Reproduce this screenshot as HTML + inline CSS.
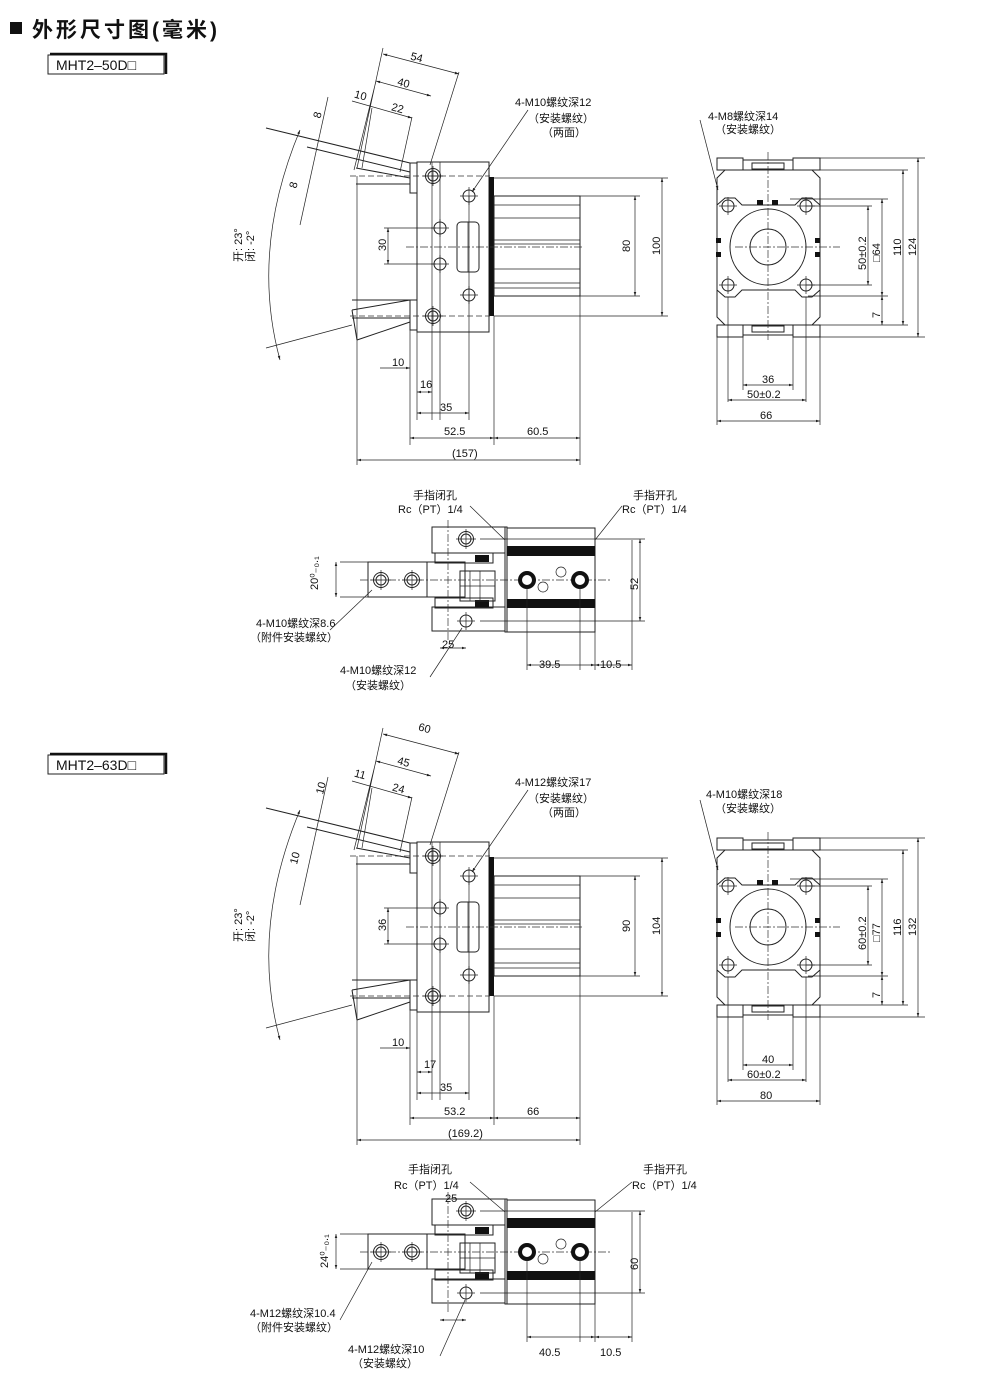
<!DOCTYPE html><html><head><meta charset="utf-8"><style>
body{margin:0;background:#fff}
svg{display:block}
text{font-family:"Liberation Sans","Noto Sans CJK SC",sans-serif;fill:#111;font-size:11px}
.l{stroke:#222;stroke-width:1;fill:none}
.t{stroke:#222;stroke-width:0.7;fill:none}
.d{stroke:#333;stroke-width:0.8;fill:none;stroke-dasharray:6 3}
.c{stroke:#333;stroke-width:0.7;fill:none;stroke-dasharray:8 2 2 2}
.k{fill:#111}
</style></head><body>
<svg width="1000" height="1383" viewBox="0 0 1000 1383">
<defs>
<marker id="a" viewBox="0 0 8 8" refX="8" refY="4" markerWidth="6" markerHeight="6" orient="auto-start-reverse"><path d="M0 1.5L8 4L0 6.5z" fill="#222"/></marker>
<g id="hole"><circle r="6" class="l"/><line x1="-9" y1="0" x2="9" y2="0" class="t"/><line x1="0" y1="-9" x2="0" y2="9" class="t"/></g>
<g id="hole2"><circle r="7.5" class="l"/><circle r="5" class="l"/><line x1="-10" y1="0" x2="10" y2="0" class="t"/><line x1="0" y1="-10" x2="0" y2="10" class="t"/></g>
<g id="side">
<rect x="417" y="162" width="72" height="170" class="l"/>
<line x1="432" y1="162" x2="432" y2="420" class="t"/><line x1="440" y1="162" x2="440" y2="420" class="t"/>
<rect x="489" y="177" width="5" height="139" class="k"/>
<line x1="494" y1="178" x2="668" y2="178" class="t"/><line x1="494" y1="316" x2="668" y2="316" class="t"/>
<rect x="494" y="196" width="86" height="100" class="l"/>
<line x1="494" y1="205" x2="580" y2="205" class="t"/><line x1="494" y1="218" x2="580" y2="218" class="t"/><line x1="494" y1="240" x2="580" y2="240" class="t"/><line x1="494" y1="244" x2="580" y2="244" class="t"/><line x1="494" y1="269" x2="580" y2="269" class="t"/><line x1="494" y1="283" x2="580" y2="283" class="t"/><line x1="494" y1="288" x2="580" y2="288" class="t"/>
<line x1="580" y1="196" x2="640" y2="196" class="t"/><line x1="580" y1="296" x2="640" y2="296" class="t"/>
<line x1="406" y1="247" x2="582" y2="247" class="c"/>
<line x1="350" y1="176" x2="490" y2="176" class="d"/><line x1="350" y1="316" x2="490" y2="316" class="d"/>
<use href="#hole2" x="433" y="176"/><use href="#hole2" x="433" y="316"/>
<use href="#hole" x="440" y="228"/><use href="#hole" x="440" y="264"/>
<use href="#hole" x="469" y="196"/><use href="#hole" x="469" y="295"/>
<rect x="457" y="222" width="22" height="50" rx="4" class="l"/><line x1="468" y1="222" x2="468" y2="272" class="t"/>
<line x1="469" y1="196" x2="469" y2="420" class="t"/><line x1="494" y1="316" x2="494" y2="445" class="t"/><line x1="580" y1="296" x2="580" y2="465" class="t"/>
<rect x="410" y="163" width="7" height="30" class="l"/><rect x="410" y="300" width="7" height="30" class="l"/>
<path d="M266 128L410 163M307 147L410 172M356 168L410 178M356 184L410 184" class="l"/>
<line x1="357" y1="176" x2="357" y2="465" class="t"/>
<path d="M352 300L410 300M352 318L410 318M352 310L410 300M357 340L410 322M357 340L352 310" class="l"/>
<line x1="410" y1="300" x2="410" y2="445" class="t"/><line x1="417" y1="332" x2="417" y2="420" class="t"/>
<path d="M383 48L357 168M459 72L430 165M376 81L354 170M412 117L400 172M372 108L362 168" class="t"/>
<line x1="383" y1="54" x2="459" y2="74" class="t" marker-start="url(#a)" marker-end="url(#a)"/>
<line x1="376" y1="81" x2="431" y2="96" class="t" marker-start="url(#a)" marker-end="url(#a)"/>
<line x1="352" y1="101" x2="412" y2="118" class="t" marker-end="url(#a)"/>
<line x1="328" y1="97" x2="300" y2="225" class="t"/>
<path d="M300 130Q250 250 280 360" class="t" marker-start="url(#a)" marker-end="url(#a)"/>
<path d="M266 348L352 325" class="t"/>
<line x1="388" y1="228" x2="388" y2="264" class="t" marker-start="url(#a)" marker-end="url(#a)"/>
<path d="M384 228L436 228M384 264L436 264" class="t"/>
<line x1="635" y1="196" x2="635" y2="296" class="t" marker-start="url(#a)" marker-end="url(#a)"/>
<line x1="662" y1="178" x2="662" y2="316" class="t" marker-start="url(#a)" marker-end="url(#a)"/>
<line x1="380" y1="368" x2="410" y2="368" class="t" marker-end="url(#a)"/>
<line x1="417" y1="392" x2="432" y2="392" class="t" marker-start="url(#a)" marker-end="url(#a)"/>
<line x1="417" y1="413" x2="469" y2="413" class="t" marker-start="url(#a)" marker-end="url(#a)"/>
<line x1="410" y1="438" x2="494" y2="438" class="t" marker-start="url(#a)" marker-end="url(#a)"/>
<line x1="494" y1="438" x2="580" y2="438" class="t" marker-start="url(#a)" marker-end="url(#a)"/>
<line x1="357" y1="460" x2="580" y2="460" class="t" marker-start="url(#a)" marker-end="url(#a)"/>
</g>
<g id="front">
<path d="M725 170L812 170L820 178L820 317L812 325L725 325L717 317L717 178Z" class="l"/>
<rect x="717" y="158" width="26" height="12" class="l"/><rect x="793" y="158" width="27" height="12" class="l"/><rect x="743" y="160" width="50" height="10" class="l"/>
<rect x="717" y="325" width="26" height="12" class="l"/><rect x="793" y="325" width="27" height="12" class="l"/><rect x="743" y="325" width="50" height="10" class="l"/>
<rect x="752" y="163" width="32" height="6" class="l"/><rect x="752" y="326" width="32" height="6" class="l"/>
<path d="M717 205L725 198L735 198L742 205L795 205L802 198L812 198L820 205M717 290L725 297L735 297L742 290L795 290L802 297L812 297L820 290" class="l"/>
<circle cx="768" cy="247" r="38" class="l"/><circle cx="768" cy="247" r="18" class="l"/>
<rect x="757" y="200" width="6" height="5" class="k"/><rect x="772" y="200" width="6" height="5" class="k"/>
<rect x="716" y="238" width="5" height="5" class="k"/><rect x="716" y="252" width="5" height="5" class="k"/><rect x="815" y="238" width="5" height="5" class="k"/><rect x="815" y="252" width="5" height="5" class="k"/>
<use href="#hole" x="728" y="206"/><use href="#hole" x="806" y="206"/><use href="#hole" x="728" y="285"/><use href="#hole" x="806" y="285"/>
<line x1="768" y1="152" x2="768" y2="340" class="c"/><line x1="735" y1="247" x2="840" y2="247" class="c"/>
<path d="M717 337L717 425M820 337L820 425M728 297L728 402M806 297L806 402M743 337L743 390M793 337L793 390" class="t"/>
<path d="M820 158L925 158M820 170L908 170M790 199L888 199M806 206L872 206M806 285L872 285M808 296L888 296M820 325L908 325M820 337L925 337" class="t"/>
<line x1="868" y1="206" x2="868" y2="285" class="t" marker-start="url(#a)" marker-end="url(#a)"/>
<line x1="882" y1="199" x2="882" y2="296" class="t" marker-start="url(#a)" marker-end="url(#a)"/>
<line x1="882" y1="296" x2="882" y2="325" class="t" marker-start="url(#a)" marker-end="url(#a)"/>
<line x1="903" y1="170" x2="903" y2="325" class="t" marker-start="url(#a)" marker-end="url(#a)"/>
<line x1="918" y1="158" x2="918" y2="337" class="t" marker-start="url(#a)" marker-end="url(#a)"/>
<line x1="743" y1="385" x2="793" y2="385" class="t" marker-start="url(#a)" marker-end="url(#a)"/>
<line x1="728" y1="400" x2="806" y2="400" class="t" marker-start="url(#a)" marker-end="url(#a)"/>
<line x1="717" y1="421" x2="820" y2="421" class="t" marker-start="url(#a)" marker-end="url(#a)"/>
</g>
<g id="bottom">
<rect x="432" y="527" width="73" height="26" class="l"/><rect x="432" y="607" width="73" height="24" class="l"/>
<rect x="435" y="553" width="58" height="10" class="l"/><rect x="475" y="555" width="14" height="7" class="k"/>
<rect x="435" y="598" width="58" height="10" class="l"/><rect x="475" y="600" width="14" height="7" class="k"/>
<rect x="427" y="562" width="38" height="35" class="l"/>
<rect x="460" y="571" width="35" height="30" class="l"/><line x1="470" y1="571" x2="470" y2="601" class="t"/><line x1="480" y1="571" x2="480" y2="601" class="t"/><line x1="460" y1="586" x2="495" y2="586" class="t"/>
<rect x="368" y="562" width="59" height="35" class="l"/><line x1="340" y1="562" x2="368" y2="562" class="t"/><line x1="340" y1="597" x2="368" y2="597" class="t"/>
<use href="#hole2" x="381" y="580"/><use href="#hole2" x="412" y="580"/>
<use href="#hole2" x="466" y="539"/><use href="#hole" x="466" y="621"/>
<line x1="448" y1="520" x2="448" y2="640" class="c"/>
<line x1="360" y1="580" x2="610" y2="580" class="c"/>
<rect x="505" y="527" width="2" height="105" class="l"/>
<rect x="507" y="528" width="88" height="104" class="l"/>
<rect x="507" y="546" width="88" height="10" class="k"/><rect x="507" y="599" width="88" height="9" class="k"/>
<circle cx="527" cy="580" r="7" fill="#fff" stroke="#111" stroke-width="4"/><circle cx="580" cy="580" r="7" fill="#fff" stroke="#111" stroke-width="4"/>
<circle cx="543" cy="587" r="5" class="t"/><circle cx="561" cy="572" r="5" class="t"/>
<path d="M480 539L645 539M480 621L645 621M527 587L527 670M580 587L580 670M595 632L595 670M632 540L632 670" class="t"/>
<line x1="640" y1="539" x2="640" y2="621" class="t" marker-start="url(#a)" marker-end="url(#a)"/>
<line x1="527" y1="665" x2="595" y2="665" class="t" marker-start="url(#a)" marker-end="url(#a)"/>
<line x1="595" y1="665" x2="632" y2="665" class="t" marker-start="url(#a)" marker-end="url(#a)"/>
<line x1="336" y1="562" x2="336" y2="597" class="t" marker-start="url(#a)" marker-end="url(#a)"/>
<line x1="440" y1="648" x2="466" y2="648" class="t" marker-start="url(#a)" marker-end="url(#a)"/>
</g>
</defs>

<rect x="10" y="22" width="12" height="12" class="k"/>
<text x="32" y="37" style="font-size:21px;font-weight:bold;letter-spacing:3px">外形尺寸图(毫米)</text>

<rect x="48" y="55" width="116" height="19" class="l"/><path d="M50 54L166 54L166 74" stroke="#111" stroke-width="2.5" fill="none"/>
<text x="56" y="70" style="font-size:14px">MHT2–50D□</text>
<use href="#side"/><use href="#front"/><use href="#bottom"/>
<g>
<text x="410" y="62" transform="rotate(15 420 60)">54</text>
<text x="397" y="87" transform="rotate(15 405 85)">40</text>
<text x="354" y="99" transform="rotate(15 360 97)">10</text>
<text x="391" y="112" transform="rotate(15 398 110)">22</text>
<text x="312" y="116" transform="rotate(-75 318 112)">8</text>
<text x="288" y="186" transform="rotate(-75 294 182)">8</text>
<text x="242" y="262" transform="rotate(-90 242 262)">开: 23°</text>
<text x="254" y="262" transform="rotate(-90 254 262)">闭: -2°</text>
<text x="386" y="251" transform="rotate(-90 386 251)">30</text>
<text x="630" y="252" transform="rotate(-90 630 252)">80</text>
<text x="660" y="255" transform="rotate(-90 660 255)">100</text>
<text x="392" y="366">10</text><text x="420" y="388">16</text><text x="440" y="411">35</text>
<text x="444" y="435">52.5</text><text x="527" y="435">60.5</text><text x="452" y="457">(157)</text>
<text x="515" y="106">4-M10螺纹深12</text><text x="528" y="122">（安装螺纹）</text><text x="542" y="136">（两面）</text>
<line x1="528" y1="110" x2="472" y2="192" class="t" marker-end="url(#a)"/>
<text x="708" y="120">4-M8螺纹深14</text><text x="715" y="133">（安装螺纹）</text>
<line x1="700" y1="120" x2="718" y2="190" class="t" marker-end="url(#a)"/>
<text x="866" y="270" transform="rotate(-90 866 270)">50±0.2</text>
<text x="880" y="262" transform="rotate(-90 880 262)">□64</text>
<text x="901" y="256" transform="rotate(-90 901 256)">110</text>
<text x="916" y="256" transform="rotate(-90 916 256)">124</text>
<text x="880" y="318" transform="rotate(-90 880 318)">7</text>
<text x="762" y="383">36</text><text x="747" y="398">50±0.2</text><text x="760" y="419">66</text>
<text x="413" y="499">手指闭孔</text><text x="398" y="513">Rc（PT）1/4</text>
<line x1="470" y1="506" x2="505" y2="540" class="t"/>
<text x="633" y="499">手指开孔</text><text x="622" y="513">Rc（PT）1/4</text>
<line x1="622" y1="506" x2="595" y2="540" class="t"/>
<text x="638" y="590" transform="rotate(-90 638 590)">52</text>
<text x="539" y="668">39.5</text><text x="600" y="668">10.5</text>
<text x="318" y="590" transform="rotate(-90 318 590)">20⁰₋₀.₁</text>
<text x="442" y="648">25</text>
<text x="256" y="627">4-M10螺纹深8.6</text><text x="250" y="641">（附件安装螺纹）</text>
<line x1="330" y1="630" x2="372" y2="590" class="t"/>
<text x="340" y="674">4-M10螺纹深12</text><text x="345" y="689">（安装螺纹）</text>
<line x1="430" y1="677" x2="462" y2="628" class="t"/>
</g>

<rect x="48" y="755" width="116" height="19" class="l"/><path d="M50 754L166 754L166 774" stroke="#111" stroke-width="2.5" fill="none"/>
<text x="56" y="770" style="font-size:14px">MHT2–63D□</text>
<use href="#side" y="680"/><use href="#front" y="680"/><use href="#bottom" y="672"/>
<g>
<text x="418" y="732" transform="rotate(15 425 730)">60</text>
<text x="397" y="766" transform="rotate(15 405 764)">45</text>
<text x="354" y="778" transform="rotate(15 360 776)">11</text>
<text x="392" y="792" transform="rotate(15 398 790)">24</text>
<text x="316" y="794" transform="rotate(-75 320 790)">10</text>
<text x="290" y="864" transform="rotate(-75 294 860)">10</text>
<text x="242" y="942" transform="rotate(-90 242 942)">开: 23°</text>
<text x="254" y="942" transform="rotate(-90 254 942)">闭: -2°</text>
<text x="386" y="931" transform="rotate(-90 386 931)">36</text>
<text x="630" y="932" transform="rotate(-90 630 932)">90</text>
<text x="660" y="935" transform="rotate(-90 660 935)">104</text>
<text x="392" y="1046">10</text><text x="424" y="1068">17</text><text x="440" y="1091">35</text>
<text x="444" y="1115">53.2</text><text x="527" y="1115">66</text><text x="448" y="1137">(169.2)</text>
<text x="515" y="786">4-M12螺纹深17</text><text x="528" y="802">（安装螺纹）</text><text x="542" y="816">（两面）</text>
<line x1="528" y1="790" x2="472" y2="872" class="t" marker-end="url(#a)"/>
<text x="706" y="798">4-M10螺纹深18</text><text x="715" y="812">（安装螺纹）</text>
<line x1="700" y1="800" x2="718" y2="870" class="t" marker-end="url(#a)"/>
<text x="866" y="950" transform="rotate(-90 866 950)">60±0.2</text>
<text x="880" y="942" transform="rotate(-90 880 942)">□77</text>
<text x="901" y="936" transform="rotate(-90 901 936)">116</text>
<text x="916" y="936" transform="rotate(-90 916 936)">132</text>
<text x="880" y="998" transform="rotate(-90 880 998)">7</text>
<text x="762" y="1063">40</text><text x="747" y="1078">60±0.2</text><text x="760" y="1099">80</text>
<text x="408" y="1173">手指闭孔</text><text x="394" y="1189">Rc（PT）1/4</text>
<text x="445" y="1202">25</text>
<line x1="470" y1="1182" x2="505" y2="1212" class="t"/>
<text x="643" y="1173">手指开孔</text><text x="632" y="1189">Rc（PT）1/4</text>
<line x1="632" y1="1182" x2="595" y2="1212" class="t"/>
<text x="638" y="1270" transform="rotate(-90 638 1270)">60</text>
<text x="539" y="1356">40.5</text><text x="600" y="1356">10.5</text>
<text x="328" y="1268" transform="rotate(-90 328 1268)">24⁰₋₀.₁</text>
<text x="250" y="1317">4-M12螺纹深10.4</text><text x="250" y="1331">（附件安装螺纹）</text>
<line x1="340" y1="1320" x2="372" y2="1262" class="t"/>
<text x="348" y="1353">4-M12螺纹深10</text><text x="352" y="1367">（安装螺纹）</text>
<line x1="440" y1="1356" x2="465" y2="1300" class="t"/>
</g>
</svg>
</body></html>
